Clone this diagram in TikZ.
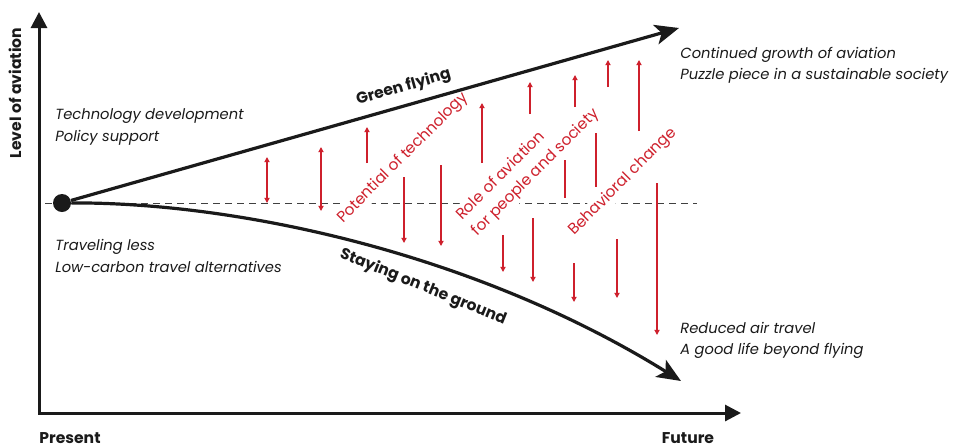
\documentclass[tikz,border=0pt]{standalone}
\usepackage{fontspec}
\setmainfont{Poppins}
\usetikzlibrary{arrows.meta}
\definecolor{avred}{RGB}{206,32,44}
\definecolor{inkblack}{RGB}{26,26,26}

\tikzset{
	axisline/.style={line width=1.5pt, color=inkblack, -{Triangle[length=8pt,width=8pt]}},
	pathline/.style={line width=1.6pt, color=inkblack, -{Stealth[length=12pt,width=10pt,inset=3pt]}},
	redline/.style={line width=0.6pt, color=avred},
	redtip/.tip={Triangle[length=2.6pt,width=2.6pt]},
	note/.style={font=\fontsize{7.35}{10.6}\selectfont\itshape, align=left, anchor=west, inner sep=0pt, color=inkblack},
	redlabel/.style={font=\fontsize{7.7}{11}\selectfont, align=left, color=avred, fill=white, inner sep=1pt, rotate=45},
	boldlabel/.style={font=\fontsize{7.8}{9}\selectfont\bfseries, color=inkblack, inner sep=0pt}
}

\begin{document}
\begin{tikzpicture}[x=0.5pt, y=-0.5pt]
		%%%%% START %%%%%
		\useasboundingbox (0, 0) rectangle (958, 446);
		
		% axes
		\coordinate (origin) at (39, 413);
		\coordinate (ytop) at (39, 12);
		\coordinate (xend) at (741, 413);
		\draw[axisline] (39, 413.75) -- (ytop);
		\draw[axisline] (38.25, 413) -- (xend);
		
		\node[boldlabel, rotate=90] (level) at (15, 93) {Level of aviation};
		\node[boldlabel, anchor=west] (present) at (39, 438) {Present};
		\node[boldlabel] (future) at (688, 438) {Future};
		
		% baseline
		\draw[line width=0.5pt, color=black!75, dash pattern=on 3.5pt off 2.5pt] (45, 203) -- (697, 203);
		
		% red labels
		\node[redlabel] (tech) at (403, 158) {Potential of technology};
		\node[redlabel] (role) at (528, 165) {Role of aviation\\for people and society};
		\node[redlabel] (behav) at (623, 182) {Behavioral change};
		
		% red arrows
		\foreach \x/\a/\b in {267/157/203, 321/147/211}
			\draw[redline, {redtip}-{redtip}] (\x, \a) -- (\x, \b);
		\foreach \x/\a/\b in {367/163/127, 482/163/103, 530/114/82, 575/107/75, 608/87/60, 639/131/60}
			\draw[redline, -{redtip}] (\x, \a) -- (\x, \b);
		\foreach \x/\a/\b in {404/177/243, 441/165/246, 503/235/272, 533/218/282, 574/263/302, 617/239/298, 657/183/335}
			\draw[redline, -{redtip}] (\x, \a) -- (\x, \b);
		\foreach \x/\a/\b in {565/160/198, 596/133/187}
			\draw[redline] (\x, \a) -- (\x, \b);
		
		% the two futures
		\coordinate (green) at (679, 28);
		\coordinate (ground) at (681, 381);
		\node[circle, fill=inkblack, minimum size=9pt, inner sep=0pt] (now) at (62, 203) {};
		\draw[pathline] (now) -- (green) node[pos=0.555, sloped, above=4pt, boldlabel] (gflabel) {Green flying};
		\draw[pathline] (now) .. controls (230, 202) and (470, 250) .. (ground);
		\node[boldlabel, rotate=-22] (sglabel) at (423, 287) {Staying on the ground};
		
		% notes
		\node[note] (up) at (55, 127) {Technology development\\Policy support};
		\node[note] (down) at (55, 256) {Traveling less\\Low-carbon travel alternatives};
		\node[note] (grow) at (680, 65) {Continued growth of aviation\\Puzzle piece in a sustainable society};
		\node[note] (reduce) at (680, 340) {Reduced air travel\\A good life beyond flying};
		
		%%%%% END %%%%%
\end{tikzpicture}
\end{document}
